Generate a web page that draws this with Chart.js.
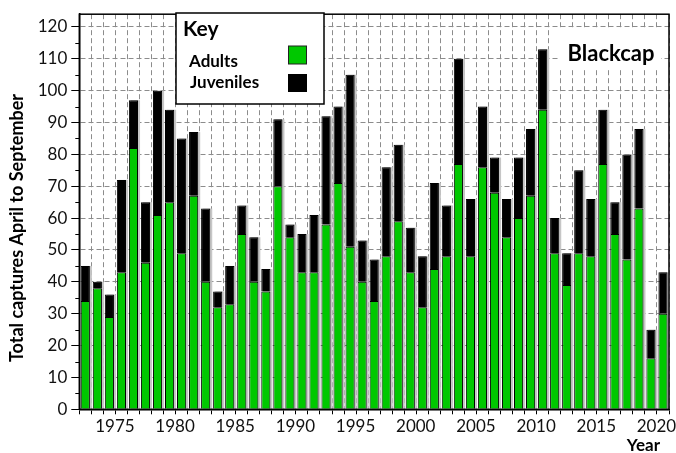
<!DOCTYPE html>
<html><head><meta charset="utf-8">
<script src="https://cdn.jsdelivr.net/npm/chart.js@4/dist/chart.umd.min.js"></script>
<style>html,body{margin:0;padding:0;background:#fff}#wrap{width:676px;height:453px;position:relative}</style>
</head><body><div id="wrap"><canvas id="c" width="676" height="453"></canvas></div>
<script>
const years = [1973,1974,1975,1976,1977,1978,1979,1980,1981,1982,1983,1984,1985,1986,1987,1988,1989,1990,1991,1992,1993,1994,1995,1996,1997,1998,1999,2000,2001,2002,2003,2004,2005,2006,2007,2008,2009,2010,2011,2012,2013,2014,2015,2016,2017,2018,2019,2020,2021];
const adults = [34,38,29,43,82,46,61,65,49,67,40,32,33,55,40,37,70,54,43,43,58,71,51,40,34,48,59,43,32,44,48,77,48,76,68,54,60,67,94,49,39,49,48,77,55,47,63,16,30];
const juveniles = [11,2,7,29,15,19,39,29,36,20,23,5,12,9,14,7,21,4,12,18,34,24,54,13,13,28,24,14,16,27,16,33,18,19,11,12,19,21,19,11,10,26,18,17,10,33,25,9,13];
const labeledYears = [1975,1980,1985,1990,1995,2000,2005,2010,2015,2020];
const yTickValues = [0,5,10,15,20,25,30,35,40,45,50,55,60,65,70,75,80,85,90,95,100,105,110,115,120];
const seriesNames = ['Adults','Juveniles'];
const keyTitle = 'Key';
const speciesName = 'Blackcap';
const yTitle = 'Total captures April to September';
const xTitle = 'Year';

const GREEN = '#00c800';
const FONT = 'Lato';

const shadowPlugin = {
  id: 'shadow',
  beforeDatasetsDraw(chart) {
    const ctx = chart.ctx;
    ctx.save();
    ctx.fillStyle = '#c6c6c6';
    chart.data.datasets.forEach((ds, i) => {
      const meta = chart.getDatasetMeta(i);
      meta.data.forEach(el => {
        const p = el.getProps(['x','y','base','width'], true);
        const top = Math.min(p.y, p.base), h = Math.abs(p.base - p.y);
        ctx.fillRect(p.x - p.width/2 + 2, top, p.width, h);
      });
    });
    ctx.restore();
  }
};

const framePlugin = {
  id: 'frame',
  afterDraw(chart) {
    const ctx = chart.ctx, a = chart.chartArea, ys = chart.scales.y;
    ctx.save();
    // minor y ticks
    ctx.strokeStyle = '#000'; ctx.lineWidth = 1;
    yTickValues.forEach(v => {
      if (v % 10 !== 0) {
        const y = Math.round(ys.getPixelForValue(v)) + 0.5;
        ctx.beginPath(); ctx.moveTo(a.left - 4, y); ctx.lineTo(a.left, y); ctx.stroke();
      }
    });
    // frame
    ctx.lineWidth = 1.5;
    ctx.strokeRect(a.left, a.top, a.right - a.left, a.bottom - a.top);

    // axis titles
    ctx.fillStyle = '#000';
    ctx.font = 'bold 18px ' + FONT;
    ctx.save();
    ctx.translate(23, 228);
    ctx.rotate(-Math.PI / 2);
    ctx.textAlign = 'center'; ctx.textBaseline = 'alphabetic';
    ctx.fillText(yTitle, 0, 0);
    ctx.restore();
    ctx.font = 'bold 17px ' + FONT;
    ctx.textAlign = 'right'; ctx.textBaseline = 'alphabetic';
    ctx.fillText(xTitle, 660, 451);

    // Key box
    ctx.fillStyle = '#fff';
    ctx.fillRect(176, 13, 148, 91);
    ctx.lineWidth = 1.5; ctx.strokeStyle = '#000';
    ctx.strokeRect(176, 13, 148, 91);
    ctx.fillStyle = '#000';
    ctx.textBaseline = 'alphabetic'; ctx.textAlign = 'left';
    ctx.font = 'bold 21px ' + FONT;
    ctx.fillText(keyTitle, 183, 36);
    ctx.font = 'bold 17px ' + FONT;
    ctx.fillText(seriesNames[0], 189, 67);
    ctx.fillText(seriesNames[1], 190, 88);
    ctx.fillStyle = GREEN;
    ctx.fillRect(288.5, 46, 18, 18);
    ctx.lineWidth = 1; ctx.strokeStyle = '#222';
    ctx.strokeRect(288.5, 46, 18, 18);
    ctx.fillStyle = '#000';
    ctx.fillRect(288, 74, 19, 18);

    // species label
    ctx.fillStyle = '#fff';
    ctx.fillRect(560, 30, 101, 40);
    ctx.fillStyle = '#000';
    ctx.font = 'bold 22px ' + FONT;
    ctx.textAlign = 'center';
    ctx.fillText(speciesName, 611, 61);
    ctx.restore();
  }
};

new Chart(document.getElementById('c'), {
  type: 'bar',
  data: {
    labels: years.map(String),
    datasets: [
      { label: seriesNames[0], data: adults, backgroundColor: GREEN, borderColor: '#000', borderWidth: 1, barPercentage: 0.76, categoryPercentage: 1 },
      { label: seriesNames[1], data: juveniles, backgroundColor: '#000', borderColor: '#000', borderWidth: 1, barPercentage: 0.76, categoryPercentage: 1 }
    ]
  },
  options: {
    responsive: false,
    devicePixelRatio: 1,
    animation: false,
    layout: { padding: { left: 0, right: 7, top: 13, bottom: 0 } },
    plugins: { legend: { display: false }, tooltip: { enabled: false } },
    scales: {
      x: {
        stacked: true,
        offset: true,
        grid: { offset: true, color: '#8c8c8c', lineWidth: 1, tickColor: '#000', tickLength: 5, tickBorderDash: [] },
        border: { display: true, color: '#000', width: 1.5, dash: [5, 3] },
        ticks: {
          autoSkip: false, maxRotation: 0, minRotation: 0, padding: 2, labelOffset: 5.5,
          color: '#111', font: { family: FONT, size: 17 },
          callback: (v, i) => labeledYears.includes(years[i]) ? String(years[i]) : ''
        },
        title: { display: false },
        afterFit: s => { s.height = 43.7; }
      },
      y: {
        stacked: true, min: 0, max: 124,
        afterBuildTicks: s => { s.ticks = yTickValues.map(v => ({ value: v })); },
        grid: {
          color: c => (c.tick && c.tick.value % 10 === 0 && c.tick.value > 0) ? '#8c8c8c' : 'rgba(0,0,0,0)',
          tickColor: c => (c.tick && c.tick.value % 10 === 0) ? '#000' : 'rgba(0,0,0,0)',
          tickLength: 8, tickBorderDash: []
        },
        border: { display: true, color: '#000', width: 1.5, dash: [5, 3] },
        ticks: {
          autoSkip: false, padding: 4, color: '#111', font: { family: FONT, size: 17 },
          callback: v => (v % 10 === 0 ? String(v) : '')
        },
        title: { display: false },
        afterFit: s => { s.width = 79.3; }
      }
    }
  },
  plugins: [shadowPlugin, framePlugin]
});
</script>
</body></html>
